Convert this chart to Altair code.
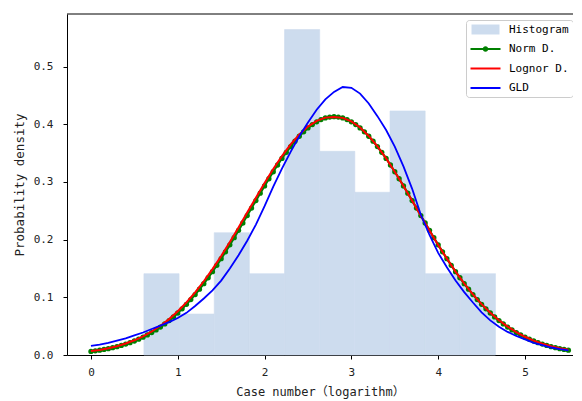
import altair as alt
import pandas as pd

# ---------------- data ----------------
bin_edges = [0.61, 1.015, 1.42, 1.825, 2.23, 2.635, 3.04, 3.445, 3.85, 4.255, 4.66]
hist_density = [0.141, 0.071, 0.212, 0.141, 0.564, 0.353, 0.282, 0.423, 0.141, 0.141]

norm_x = [round(i * 0.05, 2) for i in range(111)]
norm_y = [
    0.0062, 0.0072, 0.0083, 0.0096, 0.0110, 0.0127, 0.0145, 0.0166, 0.0189, 0.0214,
    0.0243, 0.0274, 0.0309, 0.0347, 0.0389, 0.0434, 0.0484, 0.0538, 0.0597, 0.0660,
    0.0728, 0.0800, 0.0878, 0.0960, 0.1048, 0.1140, 0.1237, 0.1339, 0.1445, 0.1555,
    0.1670, 0.1788, 0.1909, 0.2033, 0.2160, 0.2288, 0.2417, 0.2547, 0.2676, 0.2804,
    0.2931, 0.3055, 0.3176, 0.3293, 0.3406, 0.3512, 0.3612, 0.3705, 0.3791, 0.3868,
    0.3936, 0.3994, 0.4042, 0.4081, 0.4108, 0.4124, 0.4130, 0.4124, 0.4108, 0.4081,
    0.4042, 0.3994, 0.3936, 0.3868, 0.3791, 0.3705, 0.3612, 0.3512, 0.3406, 0.3293,
    0.3176, 0.3055, 0.2931, 0.2804, 0.2676, 0.2547, 0.2417, 0.2288, 0.2160, 0.2033,
    0.1909, 0.1788, 0.1670, 0.1555, 0.1445, 0.1339, 0.1237, 0.1140, 0.1048, 0.0960,
    0.0878, 0.0800, 0.0728, 0.0660, 0.0597, 0.0538, 0.0484, 0.0434, 0.0389, 0.0347,
    0.0309, 0.0274, 0.0243, 0.0214, 0.0189, 0.0166, 0.0145, 0.0127, 0.0110, 0.0096,
    0.0083,
]

curve_x = [round(i * 0.1, 1) for i in range(56)]
lognorm_y = [
    0.0068, 0.0088, 0.0117, 0.0153, 0.0199, 0.0255, 0.0324, 0.0407, 0.0506, 0.0622,
    0.0757, 0.0911, 0.1085, 0.1278, 0.1489, 0.1717, 0.1959, 0.2211, 0.2469, 0.2727,
    0.2981, 0.3223, 0.3448, 0.3649, 0.3822, 0.3959, 0.4058, 0.4114, 0.4125, 0.4110,
    0.4048, 0.3942, 0.3796, 0.3615, 0.3407, 0.3175, 0.2929, 0.2673, 0.2414, 0.2158,
    0.1908, 0.1670, 0.1446, 0.1239, 0.1051, 0.0882, 0.0733, 0.0603, 0.0491, 0.0396,
    0.0316, 0.0250, 0.0196, 0.0152, 0.0117, 0.0090,
]
gld_y = [
    0.016, 0.018, 0.021, 0.025, 0.029, 0.034, 0.039, 0.045, 0.051, 0.057,
    0.064, 0.073, 0.085, 0.098, 0.112, 0.129, 0.150, 0.173, 0.198, 0.226,
    0.258, 0.292, 0.323, 0.352, 0.379, 0.403, 0.425, 0.443, 0.456, 0.4645,
    0.463, 0.453, 0.436, 0.414, 0.390, 0.361, 0.327, 0.288, 0.243, 0.208,
    0.177, 0.152, 0.129, 0.109, 0.091, 0.074, 0.060, 0.049, 0.040, 0.033,
    0.027, 0.021, 0.017, 0.013, 0.010, 0.008,
]

series_names = ["Histogram", "Norm D.", "Lognor D.", "GLD"]
series_colors = ["#cddcee", "#008000", "#ff0000", "#0000ff"]
# legend glyphs (symbol size 100 -> 1 unit = 5 px), drawn 30 px wide to the right
legend_paths = [
    "M-0.8,-1H4.8V1H-0.8Z",
    "M-1,-0.2H5V0.2H-1Z M2.55,0 A0.55,0.55 0 1,1 1.45,0 A0.55,0.55 0 1,1 2.55,0 Z",
    "M-1,-0.2H5V0.2H-1Z",
    "M-1,-0.2H5V0.2H-1Z",
]
x_ticks = [0, 1, 2, 3, 4, 5]
y_ticks = [0.0, 0.1, 0.2, 0.3, 0.4, 0.5]
x_domain = [-0.276, 5.553]
y_domain = [0, 0.591]

# ---------------- tables ----------------
hist_df = pd.DataFrame({"x": bin_edges[:-1], "x2": bin_edges[1:], "y": hist_density})
norm_df = pd.DataFrame({"x": norm_x, "y": norm_y})
logn_df = pd.DataFrame({"x": curve_x, "y": lognorm_y})
gld_df = pd.DataFrame({"x": curve_x, "y": gld_y})
legend_df = pd.DataFrame({
    "series": series_names,
    "x": [bin_edges[0], norm_x[0], curve_x[0], curve_x[0]],
    "y": [hist_density[0], norm_y[0], lognorm_y[0], gld_y[0]],
})
frame_df = pd.DataFrame({"y": [y_domain[1]]})

FONT = "DejaVu Sans Mono, Noto Sans CJK SC"

xscale = alt.Scale(domain=x_domain, nice=False, zero=False)
yscale = alt.Scale(domain=y_domain, nice=False, zero=False)
xaxis = alt.Axis(title="Case number（logarithm）", values=x_ticks, format="d", grid=False,
                 labelPadding=7, titlePadding=9, titleFontSize=12)
yaxis = alt.Axis(title="Probability density", values=y_ticks, format=".1f", grid=False,
                 labelPadding=10, titlePadding=7, titleFontSize=12.5)


def xenc():
    return alt.X("x:Q", scale=xscale, axis=xaxis)


def yenc():
    return alt.Y("y:Q", scale=yscale, axis=yaxis)


bars = alt.Chart(hist_df).mark_bar(
    color=series_colors[0], opacity=1, stroke=series_colors[0], strokeWidth=0.6
).encode(x=xenc(), x2="x2:Q", y=yenc(), y2=alt.datum(0))

norm_line = alt.Chart(norm_df).mark_line(
    color=series_colors[1], strokeWidth=2.2,
    point=alt.OverlayMarkDef(filled=True, color=series_colors[1], size=28, opacity=1),
).encode(x=xenc(), y=yenc())

logn_line = alt.Chart(logn_df).mark_line(color=series_colors[2], strokeWidth=2).encode(
    x=xenc(), y=yenc()
)

gld_line = alt.Chart(gld_df).mark_line(color=series_colors[3], strokeWidth=1.8).encode(
    x=xenc(), y=yenc()
)

top_frame = alt.Chart(frame_df).mark_rule(color="black", strokeWidth=1).encode(
    y=alt.Y("y:Q", scale=yscale, axis=yaxis)
)

legend = alt.Legend(
    orient="none", legendX=399, legendY=6, title=None,
    symbolSize=100, symbolOpacity=1, symbolStrokeWidth=0,
    labelFont=FONT, labelFontSize=11, labelColor="#000000",
    fillColor="white", strokeColor="#cccccc", padding=4, cornerRadius=3,
    rowPadding=7.5, labelOffset=28,
)
legend_pts = alt.Chart(legend_df).mark_point(filled=True, opacity=0).encode(
    x=xenc(), y=yenc(),
    color=alt.Color("series:N", scale=alt.Scale(domain=series_names, range=series_colors), legend=legend),
    shape=alt.Shape("series:N", scale=alt.Scale(domain=series_names, range=legend_paths), legend=legend),
)

chart = alt.layer(bars, norm_line, logn_line, gld_line, top_frame, legend_pts).properties(
    width=506, height=341,
    autosize=alt.AutoSizeParams(type="none"),
    padding={"left": 59, "top": 6, "right": 0, "bottom": 45},
).configure_view(
    stroke=None
).configure_axis(
    domainColor="black", tickColor="black", tickSize=4,
    labelFont=FONT, labelFontSize=11, labelColor="#222222",
    titleFont=FONT, titleFontWeight="normal", titleColor="#222222",
)

chart.save("out.html", embed_options={"renderer": "svg", "actions": False})
